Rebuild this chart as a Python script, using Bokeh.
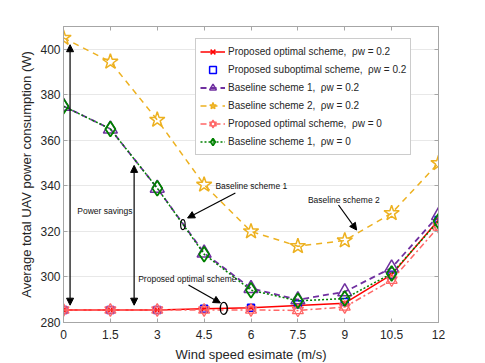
from bokeh.plotting import figure
from bokeh.models import (Range1d, FixedTicker, LinearAxis, Legend, LegendItem,
                          Arrow, NormalHead, Label)
from bokeh.embed import file_html
from bokeh.resources import INLINE

# ---------------- data ----------------
wind = [0, 1.5, 3, 4.5, 6, 7.5, 9, 10.5, 12]
x_tick_labels = ["0", "1.5", "3", "4.5", "6", "7.5", "9", "10.5", "12"]
y_ticks = [280, 300, 320, 340, 360, 380, 400]

prop_opt_02 = [285.5, 285.5, 285.5, 286, 286.5, 287.5, 288.5, 301, 325]
prop_sub_02 = [285.5, 285.5, 285.5, 286, 286.5, 288, 289, 301, 325]
base1_02 = [375, 365, 339, 310.5, 295, 290, 293.5, 304, 327]
base2_02 = [405, 394.5, 369, 340.5, 320, 313.5, 316, 328, 350]
prop_opt_0 = [285.5, 285.5, 285.5, 285.5, 285.5, 285.3, 286.8, 298.6, 322]
base1_0 = [375, 365, 339, 310, 294.2, 289.5, 290.5, 301.5, 324.5]

FONT = "Liberation Sans"
TXT = "#262626"
AX = "#a6a6a6"

p = figure(frame_width=375, frame_height=296, output_backend="svg",
           toolbar_location=None, x_range=Range1d(0, 12), y_range=Range1d(280, 410),
           min_border_left=63, min_border_top=26, min_border_right=40, min_border_bottom=37,
           background_fill_color="white", border_fill_color="white")
p.outline_line_color = AX

xt = FixedTicker(ticks=wind)
yt = FixedTicker(ticks=y_ticks)
p.xaxis.ticker = xt
p.yaxis.ticker = yt
p.xaxis.major_label_overrides = {w: s for w, s in zip(wind, x_tick_labels)}
for ax in (p.xaxis[0], p.yaxis[0]):
    ax.axis_line_color = AX
    ax.major_tick_line_color = AX
    ax.major_tick_in = 4
    ax.major_tick_out = 0
    ax.minor_tick_line_color = None
    ax.major_label_text_font = FONT
    ax.major_label_text_font_size = "12px"
    ax.major_label_text_color = TXT
    ax.axis_label_text_font = FONT
    ax.axis_label_text_font_size = "13px"
    ax.axis_label_text_font_style = "normal"
    ax.axis_label_text_color = TXT
    ax.major_label_standoff = 3
    ax.axis_label_standoff = 3
p.xaxis.major_label_standoff = 7
p.xaxis.axis_label_standoff = 5
p.xaxis.axis_label = "Wind speed esimate (m/s)"
p.yaxis.axis_label = "Average total UAV power consumption (W)"

for loc, tk, tvals in (("above", xt, wind), ("right", yt, y_ticks)):
    a = LinearAxis(ticker=tk, major_label_overrides={t: "" for t in tvals},
                   major_label_standoff=0, major_label_text_font_size="10px",
                   axis_line_color=AX, major_tick_line_color=AX, major_tick_in=4,
                   major_tick_out=0, minor_tick_line_color=None)
    p.add_layout(a, loc)

p.xgrid.grid_line_color = None
p.ygrid.grid_line_color = "#e8e8e8"

# ---------------- series ----------------
RED = "#ff0000"
BLUE = "#0000ff"
PURPLE = "#7030a0"
ORANGE = "#edb120"
PINK = "#ff6666"
GREEN = "#008000"

r1l = p.line(wind, prop_opt_02, line_color=RED, line_width=1.5)
r1m = p.scatter(wind, prop_opt_02, marker="x", size=7, line_color=RED, line_width=1.5)

r2m = p.scatter(wind, prop_sub_02, marker="square", size=7, line_color=BLUE,
                fill_color=None, line_width=1.5)

r3l = p.line(wind, base1_02, line_color=PURPLE, line_width=1.8, line_dash="6 4")
r3m = p.scatter(wind, base1_02, marker="triangle", size=14, line_color=PURPLE,
                fill_color=None, line_width=1.5)

r4l = p.line(wind, base2_02, line_color=ORANGE, line_width=1.5, line_dash="6 5")
r4m = p.scatter(wind, base2_02, marker="star", size=16, line_color=ORANGE,
                fill_color=None, line_width=1.5)

r5l = p.line(wind, prop_opt_0, line_color=PINK, line_width=1.5, line_dash="6 3 2 3")
r5a = p.scatter(wind, prop_opt_0, marker="triangle", size=11, line_color=PINK,
                fill_color=None, line_width=1.3)
r5b = p.scatter(wind, prop_opt_0, marker="inverted_triangle", size=11, line_color=PINK,
                fill_color=None, line_width=1.3)

r6l = p.line(wind, base1_0, line_color=GREEN, line_width=1.5, line_dash="2 2")
r6m = p.scatter(wind, base1_0, marker="diamond", size=15, line_color=GREEN,
                fill_color=None, line_width=1.8)

# ---------------- annotations ----------------
def head():
    return NormalHead(size=7, fill_color="black", line_color="black")

p.add_layout(Arrow(start=head(), end=head(), x_start=0.21, y_start=402,
                   x_end=0.21, y_end=287.6, line_width=1.2))
p.add_layout(Arrow(start=head(), end=head(), x_start=2.26, y_start=349,
                   x_end=2.26, y_end=287.6, line_width=1.2))
p.add_layout(Arrow(end=head(), x_start=5.5, y_start=336.9, x_end=3.97, y_end=325.9,
                   line_width=1.2))
p.add_layout(Arrow(end=head(), x_start=4.0, y_start=296.5, x_end=5.02, y_end=288.6,
                   line_width=1.2))
p.add_layout(Arrow(end=head(), x_start=8.8, y_start=331.6, x_end=9.38, y_end=320.6,
                   line_width=1.2))

p.ellipse(x=[3.82], y=[323], width=4.5, height=10, width_units="screen",
          height_units="screen", fill_color=None, line_color="black", line_width=1.2)
p.ellipse(x=[5.13], y=[286.2], width=7, height=12, width_units="screen",
          height_units="screen", fill_color=None, line_color="black", line_width=1.4)

for txt, tx, ty in (("Power savings", 0.44, 328.9), ("Baseline scheme 1", 4.86, 340.0),
                    ("Proposed optimal scheme", 2.39, 299.0), ("Baseline scheme 2", 7.82, 333.8)):
    p.add_layout(Label(x=tx, y=ty, text=txt, text_font=FONT, text_font_size="8.5px",
                       text_color="#111111", text_baseline="middle", text_align="left"))

# ---------------- legend ----------------
items = [
    LegendItem(label="Proposed optimal scheme,  ρw = 0.2", renderers=[r1l, r1m]),
    LegendItem(label="Proposed suboptimal scheme,  ρw = 0.2", renderers=[r2m]),
    LegendItem(label="Baseline scheme 1,  ρw = 0.2", renderers=[r3l, r3m]),
    LegendItem(label="Baseline scheme 2,  ρw = 0.2", renderers=[r4l, r4m]),
    LegendItem(label="Proposed optimal scheme,  ρw = 0", renderers=[r5l, r5a, r5b]),
    LegendItem(label="Baseline scheme 1,  ρw = 0", renderers=[r6l, r6m]),
]
legend = Legend(items=items, location=(132, 167), margin=0, padding=4, spacing=1,
                glyph_width=25, glyph_height=17, label_height=17, label_standoff=3,
                label_text_font=FONT, label_text_font_size="10px", label_text_color=TXT,
                border_line_color="#999999", background_fill_color="white",
                background_fill_alpha=1)
p.add_layout(legend)

open("out.html", "w").write(file_html(p, INLINE))
